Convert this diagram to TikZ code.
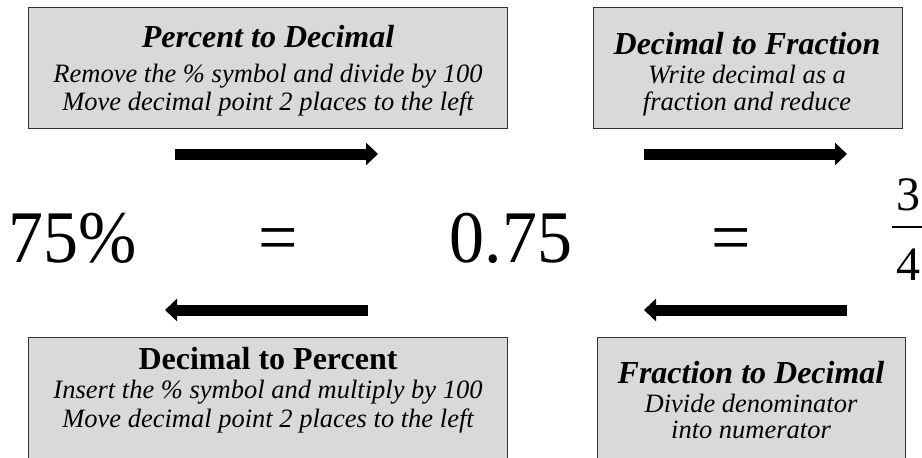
\documentclass[tikz,border=0pt]{standalone}
\usepackage{fontspec}
\setmainfont{Liberation Serif}
\usetikzlibrary{arrows.meta}
\definecolor{boxfill}{HTML}{D9D9D9}
\definecolor{boxline}{HTML}{333333}
\tikzset{
  panel/.style={draw=boxline, fill=boxfill, line width=1.2pt, anchor=north west, inner sep=0pt},
  ttl/.style={font=\fontsize{32}{34}\selectfont\bfseries\itshape, inner sep=0pt, anchor=base},
  ttlup/.style={font=\fontsize{32}{34}\selectfont\bfseries, inner sep=0pt, anchor=base},
  sub/.style={font=\fontsize{26.5}{28}\selectfont\itshape, inner sep=0pt, anchor=base},
  big/.style={font=\fontsize{70}{80}\selectfont, inner sep=0pt, anchor=base},
  frac/.style={font=\fontsize{48}{52}\selectfont, inner sep=0pt, anchor=base},
  fat/.style={line width=11pt, -{Triangle[length=12pt,width=22pt]}},
}
\begin{document}
\begin{tikzpicture}[x=1pt,y=-1pt]
\useasboundingbox (0,0) rectangle (922,458);
% boxes
\node[panel, minimum width=479pt, minimum height=121pt] (b1) at (28,7) {};
\node[panel, minimum width=309pt, minimum height=121pt] (b2) at (593,7) {};
\node[panel, minimum width=479pt, minimum height=140pt] (b3) at (28,337) {};
\node[panel, minimum width=308pt, minimum height=140pt] (b4) at (597,337) {};
% box texts
\node[ttl] (t1) at (268,47) {Percent to Decimal};
\node[sub] (s1a) at (268,82) {Remove the \% symbol and divide by 100};
\node[sub] (s1b) at (268,110) {Move decimal point 2 places to the left};
\node[ttl] (t2) at (747,54) {Decimal to Fraction};
\node[sub] (s2a) at (747,83) {Write decimal as a};
\node[sub] (s2b) at (747,110) {fraction and reduce};
\node[ttlup] (t3) at (268,369) {Decimal to Percent};
\node[sub] (s3a) at (268,398) {Insert the \% symbol and multiply by 100};
\node[sub] (s3b) at (268,427) {Move decimal point 2 places to the left};
\node[ttl] (t4) at (751,383) {Fraction to Decimal};
\node[sub] (s4a) at (751,412) {Divide denominator};
\node[sub] (s4b) at (751,438) {into numerator};
% equation
\node[big] (pct) at (73,262) {\scalebox{1}[1.06]{75\%}};
\node[big] (eq1) at (278,262) {\scalebox{1}[1.06]{=}};
\node[big] (dec) at (511,262) {\scalebox{1}[1.06]{0.75}};
\node[big] (eq2) at (731,262) {\scalebox{1}[1.06]{=}};
\node[frac] (num) at (908,210) {3};
\node[frac] (den) at (908,280) {4};
\coordinate (barL) at (892,227);
\coordinate (barR) at (935,227);
\draw[line width=2.2pt] (barL) -- (barR);
% arrows
\coordinate (a1s) at (175,154); \coordinate (a1e) at (378,154);
\coordinate (a2s) at (644,154); \coordinate (a2e) at (847,154);
\coordinate (a3s) at (368,310); \coordinate (a3e) at (165,310);
\coordinate (a4s) at (847,310); \coordinate (a4e) at (644,310);
\draw[fat] (a1s) -- (a1e);
\draw[fat] (a2s) -- (a2e);
\draw[fat] (a3s) -- (a3e);
\draw[fat] (a4s) -- (a4e);
\end{tikzpicture}
\end{document}
